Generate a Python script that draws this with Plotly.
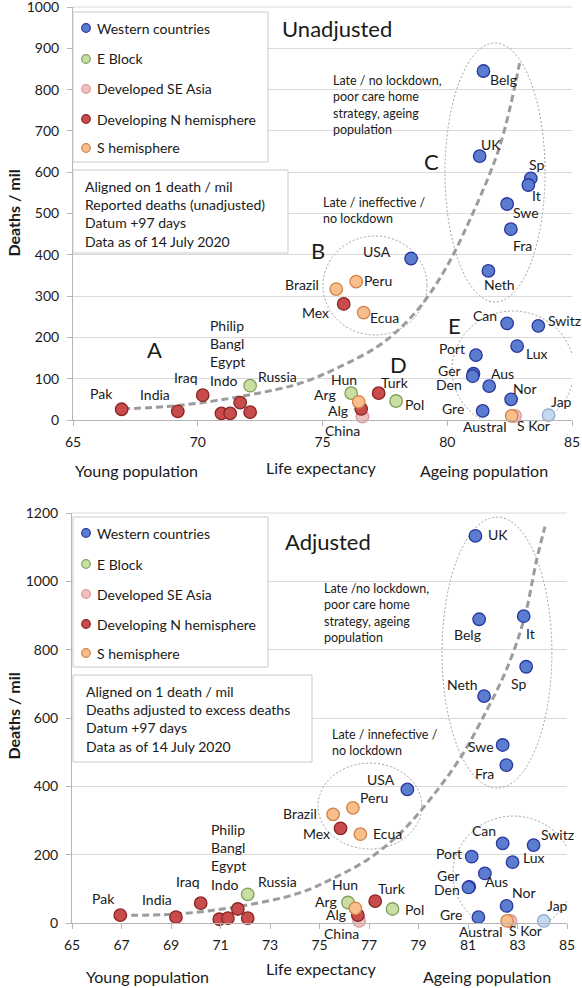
import plotly.graph_objects as go

W, H = 582, 988
FONT = "Lato"
TXT = "#1a1a1a"

# ---------------- data ----------------
countries = ["Pak", "India", "Iraq", "Philip", "Indo", "Egypt", "Bangl", "Russia",
             "Brazil", "Mex", "Peru", "Ecua", "USA", "Hun", "Arg", "Alg", "China", "Turk", "Pol",
             "Belg", "UK", "Sp", "It", "Swe", "Fra", "Neth", "Can", "Switz", "Lux", "Port",
             "Ger", "Den", "Aus", "Nor", "Gre", "Austral", "S Kor", "Jap"]
groups = ["DN", "DN", "DN", "DN", "DN", "DN", "DN", "EB",
          "SH", "DN", "SH", "SH", "WC", "EB", "SH", "DN", "SE", "DN", "EB",
          "WC", "WC", "WC", "WC", "WC", "WC", "WC", "WC", "WC", "WC", "WC",
          "WC", "WC", "WC", "WC", "WC", "SH", "SE", "JP"]
life_expectancy = [66.95, 69.2, 70.2, 70.95, 71.3, 71.7, 72.1, 72.1,
                   75.55, 75.85, 76.35, 76.65, 78.55, 76.15, 76.45, 76.55, 76.6, 77.25, 77.95,
                   81.45, 81.3, 83.35, 83.25, 82.4, 82.55, 81.65, 82.4, 83.65, 82.8, 81.15,
                   81.05, 81.02, 81.68, 82.56, 81.42, 82.58, 82.72, 84.06]
deaths_unadjusted = [26, 21, 60, 16, 16, 42, 19, 83,
                     317, 281, 335, 260, 391, 65, 44, 27, 8, 65, 46,
                     845, 639, 585, 569, 523, 462, 361, 234, 228, 179, 157,
                     112, 106, 82, 50, 22, 10, 10, 12]
deaths_adjusted = [23, 17, 58, 11, 14, 41, 14, 84,
                   318, 277, 337, 260, 391, 60, 43, 23, 6, 64, 41,
                   889, 1133, 750, 898, 521, 462, 664, 233, 228, 178, 194,
                   106, 104, 145, 50, 17, 6, 6, 6]

group_order = ["WC", "EB", "SE", "JP", "DN", "SH"]
group_names = {"WC": "Western countries", "EB": "E Block", "SE": "Developed SE Asia",
               "DN": "Developing N hemisphere", "SH": "S hemisphere", "JP": "Japan"}
legend_groups = ["WC", "EB", "SE", "DN", "SH"]

trend_top_x = [67.0, 69.2, 72.0, 74.1, 75.7, 77.4, 78.8, 79.9, 80.9, 82.1, 82.9]
trend_top_y = [27, 35, 60, 89, 129, 186, 266, 363, 484, 662, 864]
trend_bot_x = [66.94, 69.16, 71.7, 74.2, 75.56, 76.91, 78.25, 79.5, 80.75, 81.76, 82.43, 82.96, 83.36, 83.77, 84.11]
trend_bot_y = [23, 26, 48, 88, 131, 184, 262, 365, 490, 623, 721, 819, 916, 1062, 1160]

# ---------------- styles ----------------
fills = {"WC": "#5b7dcf", "EB": "#c8dea2", "SE": "#f1c0c0", "DN": "#c84c4c",
         "SH": "#f8be8c", "JP": "#c5d8f0"}
edges = {"WC": "#2a36a0", "EB": "#82a05a", "SE": "#d89898", "DN": "#8c2424",
         "SH": "#d28246", "JP": "#8eaad2"}

def px(x):
    return x / W

def py(y):
    return 1 - y / H

top_off = {"Pak": (-20, 16), "India": (-23, 17), "Iraq": (-17, 18), "Russia": (27, 9),
           "USA": (-34, 7), "Peru": (22, 1), "Brazil": (-34, 5), "Mex": (-28, -9), "Ecua": (21, -5),
           "Neth": (11, -14), "Can": (-22, 8), "Switz": (26, 5), "Lux": (20, -7), "Port": (-24, 7),
           "Ger": (-24, 3), "Den": (-24, -8), "Aus": (13, 13), "Nor": (14, 11), "Gre": (-30, 2),
           "Austral": (-27, -11), "S Kor": (18, -10), "Jap": (13, 14), "Hun": (-7, 14), "Arg": (-34, 7),
           "Alg": (-23, -2), "China": (-20, -14), "Turk": (16, 11), "Pol": (18, -3),
           "Belg": (20, -8), "UK": (11, 12), "Sp": (6, 14), "It": (8, -10), "Swe": (19, -8), "Fra": (12, -16)}
bot_off = {"Pak": (-17, 17), "India": (-19, 18), "Iraq": (-13, 22), "Russia": (30, 13),
           "USA": (-26, 10), "Peru": (21, 10), "Brazil": (-33, 1), "Mex": (-24, -5), "Ecua": (27, 1),
           "UK": (23, 1), "Belg": (-12, -15), "It": (7, -17), "Sp": (-8, -17), "Neth": (-22, 12),
           "Swe": (-22, -2), "Fra": (-22, -8), "Can": (-19, 13), "Switz": (24, 11), "Port": (-23, 3),
           "Lux": (21, 5), "Aus": (12, -8), "Ger": (-21, 11), "Den": (-21, -2), "Nor": (17, 13),
           "Gre": (-27, 3), "Austral": (-27, -11), "S Kor": (15, -10), "Jap": (14, 15), "Hun": (-3, 18),
           "Arg": (-29, 7), "Alg": (-22, 1), "China": (-18, -13), "Turk": (17, 13), "Pol": (22, -1)}

fig = go.Figure()

panels = [
    dict(xa="x", ya="y", deaths=deaths_unadjusted, tx=trend_top_x, ty=trend_top_y,
         off=top_off, grp_off=(-32, 50), leg_top=12, leg_rows=[28, 59, 89, 119, 148]),
    dict(xa="x2", ya="y2", deaths=deaths_adjusted, tx=trend_bot_x, ty=trend_bot_y,
         off=bot_off, grp_off=(-29, 52), leg_top=517, leg_rows=[533, 564, 594, 624, 653]),
]

annotations = []
shapes = []

# top gridlines at range ends (plotly omits edge gridlines)
for (x0, x1, yy) in [(73, 572, 7), (72, 567, 513)]:
    shapes.append(dict(type="line", xref="paper", yref="paper", x0=px(x0), x1=px(x1),
                       y0=py(yy), y1=py(yy), line=dict(color="#dadada", width=1), layer="above"))

def txt(x, y, s, size=14, xanchor="center", yanchor="middle", align="center", bold=False, angle=0):
    annotations.append(dict(x=px(x), y=py(y), xref="paper", yref="paper", text=s, showarrow=False,
                            xanchor=xanchor, yanchor=yanchor, align=align, textangle=angle,
                            font=dict(family=FONT, size=size, color=TXT,
                                      weight="bold" if bold else "normal")))

for p in panels:
    fig.add_trace(go.Scatter(x=p["tx"], y=p["ty"], mode="lines", xaxis=p["xa"], yaxis=p["ya"],
                             line=dict(color="#9c9c9c", width=3, dash="7px,4px", shape="spline",
                                       smoothing=1.0),
                             showlegend=False, hoverinfo="skip", cliponaxis=False))
    for g in group_order:
        idx = [i for i, gg in enumerate(groups) if gg == g]
        fig.add_trace(go.Scatter(
            x=[life_expectancy[i] for i in idx], y=[p["deaths"][i] for i in idx],
            text=[countries[i] for i in idx], mode="markers", name=group_names[g],
            xaxis=p["xa"], yaxis=p["ya"], showlegend=False, cliponaxis=False,
            marker=dict(size=12.5, color=fills[g], line=dict(color=edges[g], width=1.3))))
    # point labels
    for i, c in enumerate(countries):
        if c in p["off"]:
            dx, dy = p["off"][c]
            annotations.append(dict(x=life_expectancy[i], y=p["deaths"][i], xref=p["xa"], yref=p["ya"],
                                    text=c, showarrow=False, xshift=dx, yshift=dy,
                                    font=dict(family=FONT, size=14, color=TXT)))
    ie = countries.index("Egypt")
    annotations.append(dict(x=life_expectancy[ie], y=p["deaths"][ie], xref=p["xa"], yref=p["ya"],
                            text="Philip<br>Bangl<br>Egypt<br>Indo", showarrow=False, align="left",
                            xanchor="left", xshift=p["grp_off"][0], yshift=p["grp_off"][1],
                            font=dict(family=FONT, size=14, color=TXT)))
    # legend box (drawn as shapes + text)
    t = p["leg_top"]
    shapes.append(dict(type="rect", xref="paper", yref="paper", x0=px(73), x1=px(268),
                       y0=py(t + 150), y1=py(t), fillcolor="white",
                       line=dict(color="#c9c9c9", width=1), layer="above"))
    for g, ry in zip(legend_groups, p["leg_rows"]):
        shapes.append(dict(type="circle", xref="paper", yref="paper",
                           x0=px(86 - 4.3), x1=px(86 + 4.3), y0=py(ry + 4.3), y1=py(ry - 4.3),
                           fillcolor=fills[g], line=dict(color=edges[g], width=1.2), layer="above"))
        txt(95, ry, group_names[g], size=14, xanchor="left", align="left")

# titles
txt(280, 29, "Unadjusted", size=22, xanchor="left")
txt(283, 541, "Adjusted", size=22, xanchor="left")
# cluster texts (top)
txt(331, 105, "Late / no lockdown,<br>poor care home<br>strategy, ageing<br>population", size=12.5,
    xanchor="left", align="left")
txt(321, 210.5, "Late / ineffective /<br>no lockdown", size=12.5, xanchor="left", align="left")
for letter, x, y in [("A", 154, 350), ("B", 318, 250), ("C", 431, 161), ("D", 398, 365), ("E", 454, 325)]:
    txt(x, y, letter, size=22)
# cluster texts (bottom)
txt(322, 613, "Late /no lockdown,<br>poor care home<br>strategy, ageing<br>population", size=12.5,
    xanchor="left", align="left")
txt(330, 742, "Late / innefective /<br>no lockdown", size=12.5, xanchor="left", align="left")
# info boxes
for (x0, y0, x1, y1) in [(73, 170, 288, 253), (73, 675, 312, 762)]:
    shapes.append(dict(type="rect", xref="paper", yref="paper", x0=px(x0), x1=px(x1), y0=py(y1), y1=py(y0),
                       fillcolor="white", line=dict(color="#c9c9c9", width=1), layer="above"))
txt(83, 213.5, "Aligned on 1 death / mil<br>Reported deaths (unadjusted)<br>Datum +97 days<br>Data as of 14 July 2020",
    size=14, xanchor="left", align="left")
txt(84, 718.5, "Aligned on 1 death / mil<br>Deaths adjusted to excess deaths<br>Datum +97 days<br>Data as of 14 July 2020",
    size=14, xanchor="left", align="left")
# axis titles
txt(321, 467, "Life expectancy", size=16)
txt(321, 968, "Life expectancy", size=16)
txt(136, 470, "Young population", size=16)
txt(484, 471, "Ageing population", size=16)
txt(147, 976, "Young population", size=16)
txt(487, 976, "Ageing population", size=16)
txt(12.5, 213, "Deaths / mil", size=16, bold=True, angle=-90)
txt(12.5, 716, "Deaths / mil", size=16, bold=True, angle=-90)

# cluster ellipses
ell_top = [(79.91, 83.92, 285.7, 912.8), (75.02, 79.19, 205.8, 445.5), (80.19, 85.08, -19.4, 263.9)]
ell_bot = [(79.95, 84.39, 395, 1188), (74.94, 79.14, 216.6, 468), (80.39, 85.28, -26, 313)]
for (xr, yr, ells) in [("x", "y", ell_top), ("x2", "y2", ell_bot)]:
    for (x0, x1, y0, y1) in ells:
        shapes.append(dict(type="circle", xref=xr, yref=yr, x0=x0, x1=x1, y0=y0, y1=y1,
                           line=dict(color="#a0a0a0", width=1, dash="2px,2px"), layer="between"))

axis_common = dict(showline=True, linecolor="#b5b5b5", linewidth=1, ticks="outside", ticklen=5,
                   tickcolor="#b5b5b5", tickfont=dict(family=FONT, size=14, color=TXT),
                   automargin=False, zeroline=False, fixedrange=True, ticklabeloverflow="allow")

fig.update_layout(
    width=W, height=H, margin=dict(l=0, r=0, t=0, b=0),
    paper_bgcolor="white", plot_bgcolor="white", showlegend=False,
    font=dict(family=FONT, color=TXT),
    xaxis=dict(domain=[px(73), px(572)], range=[65, 85], tickvals=[65, 70, 75, 80, 85],
               showgrid=False, anchor="y", ticklabelstandoff=4, **axis_common),
    yaxis=dict(domain=[py(420), py(7)], range=[0, 1000], dtick=100, showgrid=True,
               gridcolor="#dadada", anchor="x", ticklabelstandoff=5, **axis_common),
    xaxis2=dict(domain=[px(72), px(567)], range=[65, 85], dtick=2, tick0=65,
                showgrid=False, anchor="y2", ticklabelstandoff=4, **axis_common),
    yaxis2=dict(domain=[py(923), py(513)], range=[0, 1200], dtick=200, showgrid=True,
                gridcolor="#dadada", anchor="x2", ticklabelstandoff=5, **axis_common),
    annotations=annotations, shapes=shapes,
)

fig.write_html("out.html", config={"displayModeBar": False, "staticPlot": True},
               post_script="document.body.style.margin='0';")
